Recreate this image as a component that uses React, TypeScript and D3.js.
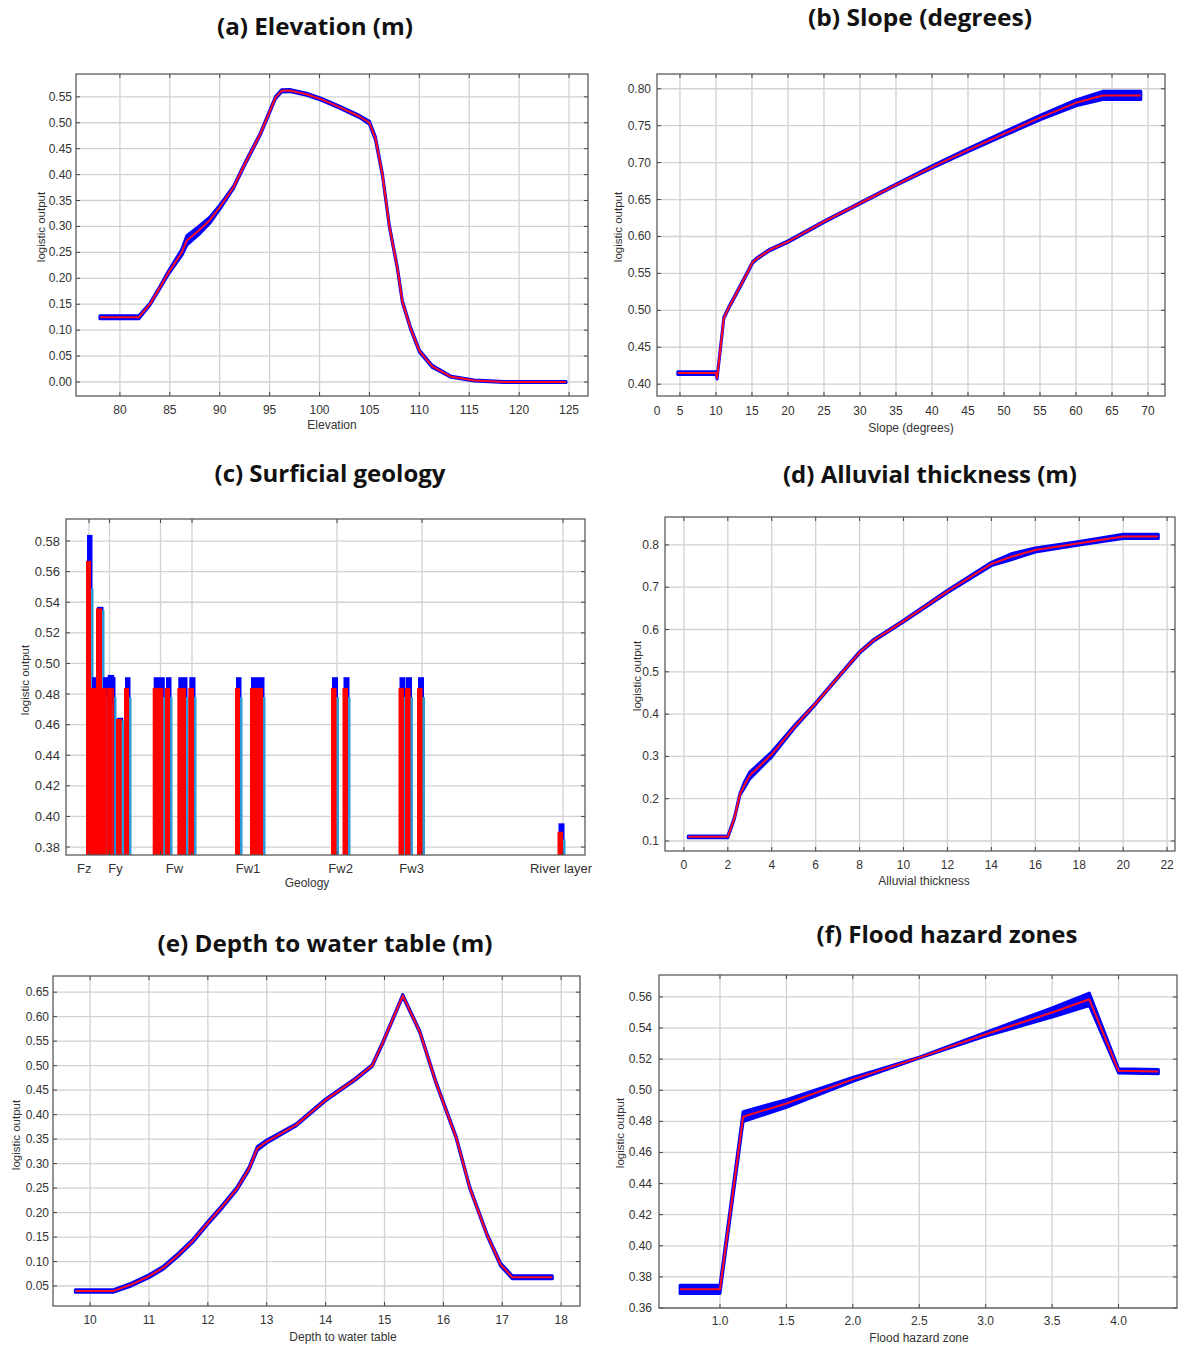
import React from 'react';
import * as d3 from 'd3';

// (a) Elevation (m)
const elevX = [78, 81.9, 83, 84, 84.8, 86.2, 86.7, 87.9, 89, 90, 91.4, 92.5, 94.06, 95.6, 96.2, 97, 98.7, 100.2, 102, 104, 105, 105.6, 106.3, 107, 107.8, 108.3, 109.1, 110, 111.3, 113.2, 115.5, 118.5, 124.7];
const elevY = [0.125, 0.125, 0.15, 0.182, 0.209, 0.25, 0.273, 0.292, 0.312, 0.337, 0.376, 0.42, 0.478, 0.549, 0.5615, 0.562, 0.555, 0.545, 0.53, 0.512, 0.5, 0.47, 0.4, 0.3, 0.22, 0.155, 0.105, 0.06, 0.03, 0.01, 0.003, 0.0, 0.0];
const elevSd = [0.003, 0.003, 0.002, 0.002, 0.003, 0.006, 0.009, 0.008, 0.006, 0.004, 0.002, 0.002, 0.002, 0.002, 0.002, 0.002, 0.002, 0.002, 0.002, 0.002, 0.003, 0.003, 0.002, 0.002, 0.002, 0.002, 0.002, 0.002, 0.002, 0.001, 0.001, 0.001, 0.001];
const elevXTicks = [80, 85, 90, 95, 100, 105, 110, 115, 120, 125];
const elevYTicks = [0, 0.05, 0.1, 0.15, 0.2, 0.25, 0.3, 0.35, 0.4, 0.45, 0.5, 0.55];

// (b) Slope (degrees)
const slopeX = [4.7, 10, 10.15, 11.1, 12, 13.5, 15.1, 15.8, 17.5, 20, 25, 30, 35, 40, 45, 50, 55, 60, 63.7, 69];
const slopeY = [0.415, 0.415, 0.408, 0.49, 0.508, 0.535, 0.565, 0.571, 0.582, 0.593, 0.62, 0.645, 0.67, 0.694, 0.717, 0.739, 0.761, 0.781, 0.791, 0.791];
const slopeSd = [0.002, 0.002, 0.001, 0.001, 0.001, 0.001, 0.001, 0.001, 0.001, 0.001, 0.001, 0.001, 0.001, 0.0015, 0.002, 0.0025, 0.003, 0.004, 0.0055, 0.0055];
const slopeXTicks = [5, 10, 15, 20, 25, 30, 35, 40, 45, 50, 55, 60, 65, 70];
const slopeYTicks = [0.4, 0.45, 0.5, 0.55, 0.6, 0.65, 0.7, 0.75, 0.8];

// (c) Surficial geology
const geoStart = [2.0, 2.5, 3.0, 3.6, 4.07, 4.67, 5.0, 5.8, 8.67, 9.9, 11.13, 12.23, 16.9, 18.4, 26.5, 27.65, 33.25, 33.9, 35.1, 49.15];
const geoEnd = [2.5, 3.0, 3.6, 4.07, 4.67, 4.8, 5.57, 6.3, 9.73, 10.4, 12.0, 12.8, 17.4, 19.7, 27.05, 28.2, 33.8, 34.45, 35.65, 49.7];
const geoMean = [0.567, 0.484, 0.536, 0.484, 0.484, 0.484, 0.4637, 0.484, 0.484, 0.484, 0.484, 0.484, 0.484, 0.484, 0.484, 0.484, 0.484, 0.484, 0.484, 0.39];
const geoUpper = [0.584, 0.491, 0.537, 0.491, 0.4925, 0.491, 0.4645, 0.491, 0.491, 0.491, 0.491, 0.491, 0.491, 0.491, 0.491, 0.491, 0.491, 0.491, 0.491, 0.3955];
const geoLower = [0.549, 0.478, 0.535, 0.478, 0.4728, 0.478, 0.4627, 0.478, 0.478, 0.478, 0.478, 0.478, 0.478, 0.478, 0.478, 0.478, 0.478, 0.478, 0.478, 0.385];
const geoGrid = [2.3, 4.35, 9.45, 12.6, 27.1, 35.6, 49.7];
const geoCats = ['Fz', 'Fy', 'Fw', 'Fw1', 'Fw2', 'Fw3', 'River layer'];
const geoCatPos = [1.83, 4.96, 10.85, 18.2, 27.46, 34.56, 49.5];
const geoYTicks = [0.38, 0.4, 0.42, 0.44, 0.46, 0.48, 0.5, 0.52, 0.54, 0.56, 0.58];

// (d) Alluvial thickness (m)
const alluX = [0.2, 2, 2.3, 2.55, 2.75, 3.0, 4, 5.1, 6, 7, 8, 8.6, 10, 12, 14, 14.9, 16, 18, 20, 21.6];
const alluY = [0.11, 0.11, 0.154, 0.21, 0.232, 0.255, 0.305, 0.374, 0.425, 0.486, 0.546, 0.573, 0.62, 0.69, 0.755, 0.772, 0.788, 0.804, 0.82, 0.82];
const alluSd = [0.002, 0.002, 0.002, 0.002, 0.007, 0.008, 0.006, 0.003, 0.002, 0.002, 0.002, 0.002, 0.002, 0.003, 0.004, 0.007, 0.005, 0.004, 0.005, 0.005];
const alluXTicks = [0, 2, 4, 6, 8, 10, 12, 14, 16, 18, 20, 22];
const alluYTicks = [0.1, 0.2, 0.3, 0.4, 0.5, 0.6, 0.7, 0.8];

// (e) Depth to water table (m)
const depthX = [9.75, 10.4, 10.7, 11.0, 11.25, 11.5, 11.75, 12.0, 12.25, 12.5, 12.7, 12.84, 13.0, 13.5, 14.0, 14.5, 14.79, 14.96, 15.31, 15.6, 15.87, 16.22, 16.45, 16.74, 16.97, 17.17, 17.85];
const depthY = [0.04, 0.04, 0.053, 0.07, 0.088, 0.114, 0.143, 0.179, 0.213, 0.25, 0.29, 0.331, 0.345, 0.379, 0.43, 0.472, 0.5, 0.544, 0.643, 0.569, 0.467, 0.352, 0.25, 0.155, 0.094, 0.068, 0.068];
const depthSd = [0.0025, 0.0025, 0.003, 0.003, 0.003, 0.003, 0.003, 0.003, 0.003, 0.003, 0.003, 0.004, 0.003, 0.002, 0.002, 0.002, 0.002, 0.002, 0.002, 0.002, 0.002, 0.002, 0.002, 0.002, 0.003, 0.003, 0.003];
const depthXTicks = [10, 11, 12, 13, 14, 15, 16, 17, 18];
const depthYTicks = [0.05, 0.1, 0.15, 0.2, 0.25, 0.3, 0.35, 0.4, 0.45, 0.5, 0.55, 0.6, 0.65];

// (f) Flood hazard zones
const floodX = [0.7, 1.0, 1.174, 1.5, 2.0, 2.5, 3.0, 3.5, 3.78, 4.0, 4.3];
const floodY = [0.372, 0.372, 0.483, 0.4915, 0.507, 0.521, 0.536, 0.55, 0.5585, 0.5125, 0.512];
const floodSd = [0.0026, 0.0026, 0.0032, 0.0025, 0.0012, 0.0003, 0.0012, 0.003, 0.004, 0.0014, 0.0014];
const floodXTicks = [1, 1.5, 2, 2.5, 3, 3.5, 4];
const floodYTicks = [0.36, 0.38, 0.4, 0.42, 0.44, 0.46, 0.48, 0.5, 0.52, 0.54, 0.56];

const FONT = '"Liberation Sans", Arial, sans-serif';
const TITLE_FONT = '"Open Sans", "Noto Sans", sans-serif';
const GRID = '#d2d2d2';
const BLUE = '#0000ff';
const RED = '#ff0a1e';

type Box = { l: number; t: number; r: number; b: number };

const Frame = ({ x, y, box, xGrid, xLabels, yTicks, yFmt, xTickY, yTickX, fs, title, titlePos, titleW, xTitle, xTitlePos, yTitlePos, children }: any) => (
  <g>
    <rect x={box.l} y={box.t} width={box.r - box.l} height={box.b - box.t} fill="#fff" />
    {xGrid.map((v: number, i: number) => (
      <line key={'gx' + i} x1={x(v)} x2={x(v)} y1={box.t} y2={box.b} stroke={GRID} strokeWidth={1.3} />
    ))}
    {yTicks.map((v: number, i: number) => (
      <line key={'gy' + i} x1={box.l} x2={box.r} y1={y(v)} y2={y(v)} stroke={GRID} strokeWidth={1.3} />
    ))}
    {children}
    {xGrid.map((v: number, i: number) => (
      <g key={'tx' + i} stroke="#444" strokeWidth={1}>
        <line x1={x(v)} x2={x(v)} y1={box.b} y2={box.b - 4} />
        <line x1={x(v)} x2={x(v)} y1={box.t} y2={box.t + 4} />
      </g>
    ))}
    {yTicks.map((v: number, i: number) => (
      <g key={'ty' + i} stroke="#444" strokeWidth={1}>
        <line x1={box.l} x2={box.l + 4} y1={y(v)} y2={y(v)} />
        <line x1={box.r} x2={box.r - 4} y1={y(v)} y2={y(v)} />
      </g>
    ))}
    <rect x={box.l} y={box.t} width={box.r - box.l} height={box.b - box.t} fill="none" stroke="#5a5a5a" strokeWidth={1.3} />
    <g fontFamily={FONT} fontSize={fs} fill="#333">
      {yTicks.map((v: number, i: number) => (
        <text key={'ly' + i} x={yTickX} y={y(v)} textAnchor="end" dominantBaseline="central">{yFmt(v)}</text>
      ))}
      {xLabels.map((d: any, i: number) => (
        <text key={'lx' + i} x={x(d.v)} y={xTickY} textAnchor="middle" dominantBaseline="central">{d.t}</text>
      ))}
      <text x={xTitlePos[0]} y={xTitlePos[1]} textAnchor="middle" dominantBaseline="central" fontSize={12}>{xTitle}</text>
      <text transform={`translate(${yTitlePos[0]},${yTitlePos[1]}) rotate(-90)`} textAnchor="middle" dominantBaseline="central" fontSize={11.5}>logistic output</text>
    </g>
    <text x={titlePos[0]} y={titlePos[1]} textAnchor="middle" dominantBaseline="central" fontFamily={TITLE_FONT}
      fontWeight="bold" fontSize={24} fill="#111" textLength={titleW} lengthAdjust="spacingAndGlyphs">{title}</text>
  </g>
);

const LinePanel = (p: any) => {
  const box: Box = p.box;
  const x = d3.scaleLinear().domain(p.xDomain).range([box.l, box.r]);
  const y = d3.scaleLinear().domain(p.yDomain).range([box.b, box.t]);
  const pts = p.xs.map((v: number, i: number) => ({ x: v, y: p.ys[i], s: p.sd[i] }));
  const line = d3.line<any>().x((d) => x(d.x)).y((d) => y(d.y));
  const band = d3.area<any>().x((d) => x(d.x)).y0((d) => y(d.y - d.s)).y1((d) => y(d.y + d.s));
  const xLabels = p.xTicks.map((v: number) => ({ v, t: p.xFmt(v) }));
  if (p.zeroLabel) xLabels.unshift({ v: p.xDomain[0], t: '0' });
  return (
    <Frame x={x} y={y} box={box} xGrid={p.xTicks} xLabels={xLabels} yTicks={p.yTicks} yFmt={p.yFmt}
      xTickY={p.xTickY} yTickX={p.yTickX} fs={p.fs || 12} title={p.title} titlePos={p.titlePos} titleW={p.titleW}
      xTitle={p.xTitle} xTitlePos={p.xTitlePos} yTitlePos={p.yTitlePos}>
      <path d={band(pts) || ''} fill={BLUE} stroke={BLUE} strokeWidth={3} strokeLinejoin="round" strokeLinecap="square" />
      <path d={line(pts) || ''} fill="none" stroke={RED} strokeWidth={2} strokeLinejoin="round" />
    </Frame>
  );
};

const GeologyPanel = () => {
  const box: Box = { l: 66, t: 519, r: 585, b: 855 };
  const x = d3.scaleLinear().domain([0, 51.9]).range([box.l, box.r]);
  const y = d3.scaleLinear().domain([0.3748, 0.5944]).range([box.b, box.t]);
  const base = y.domain()[0];
  const f2 = d3.format('.2f');
  return (
    <Frame x={x} y={y} box={box} xGrid={geoGrid} xLabels={geoCats.map((t, i) => ({ v: geoCatPos[i], t }))}
      yTicks={geoYTicks} yFmt={f2} xTickY={868} yTickX={60} fs={13}
      title="(c) Surficial geology" titlePos={[330, 472]} titleW={231} xTitle="Geology" xTitlePos={[307, 883]} yTitlePos={[25, 680]}>
      {geoStart.map((s, i) => (
        <g key={i}>
          <rect x={x(s + 0.1)} y={y(geoUpper[i])} width={x(geoEnd[i] + 0.15) - x(s + 0.1)} height={y(base) - y(geoUpper[i])} fill={BLUE} />
          <rect x={x(s + 0.15)} y={y(geoLower[i])} width={x(geoEnd[i] + 0.25) - x(s + 0.15)} height={y(base) - y(geoLower[i])} fill="#2a9ad8" />
          <rect x={x(s)} y={y(geoMean[i])} width={x(geoEnd[i]) - x(s)} height={y(base) - y(geoMean[i])} fill="#ff0000" />
        </g>
      ))}
    </Frame>
  );
};

const f2 = d3.format('.2f');
const f1 = d3.format('.1f');
const f0 = d3.format('d');

export default function App() {
  return (
    <svg width={1178} height={1345} style={{ position: 'absolute', left: 0, top: 0, background: '#fff' }}>
      <rect width={1178} height={1345} fill="#fff" />
      <LinePanel box={{ l: 76, t: 74, r: 588, b: 396 }} xDomain={[75.6, 126.9]} yDomain={[-0.027, 0.594]}
        xTicks={elevXTicks} yTicks={elevYTicks} xFmt={f0} yFmt={f2} xs={elevX} ys={elevY} sd={elevSd}
        xTickY={410} yTickX={72} title="(a) Elevation (m)" titlePos={[315, 25]} titleW={196}
        xTitle="Elevation" xTitlePos={[332, 425]} yTitlePos={[41, 227]} />
      <LinePanel box={{ l: 657, t: 74, r: 1165, b: 396 }} xDomain={[1.81, 72.36]} yDomain={[0.384, 0.82]}
        xTicks={slopeXTicks} yTicks={slopeYTicks} xFmt={f0} yFmt={f2} xs={slopeX} ys={slopeY} sd={slopeSd}
        xTickY={411} yTickX={651} zeroLabel title="(b) Slope (degrees)" titlePos={[920, 16]} titleW={224}
        xTitle="Slope (degrees)" xTitlePos={[911, 428]} yTitlePos={[618, 227]} />
      <GeologyPanel />
      <LinePanel box={{ l: 665, t: 517, r: 1175, b: 851 }} xDomain={[-0.86, 22.36]} yDomain={[0.0764, 0.866]}
        xTicks={alluXTicks} yTicks={alluYTicks} xFmt={f0} yFmt={f1} xs={alluX} ys={alluY} sd={alluSd}
        xTickY={865} yTickX={659} title="(d) Alluvial thickness (m)" titlePos={[930, 473]} titleW={294}
        xTitle="Alluvial thickness" xTitlePos={[924, 881]} yTitlePos={[637, 676]} />
      <LinePanel box={{ l: 53, t: 976, r: 580, b: 1306 }} xDomain={[9.37, 18.32]} yDomain={[0.0092, 0.683]}
        xTicks={depthXTicks} yTicks={depthYTicks} xFmt={f0} yFmt={f2} xs={depthX} ys={depthY} sd={depthSd}
        xTickY={1320} yTickX={49} title="(e) Depth to water table (m)" titlePos={[325, 942]} titleW={335}
        xTitle="Depth to water table" xTitlePos={[343, 1337]} yTitlePos={[16, 1135]} />
      <LinePanel box={{ l: 659, t: 975, r: 1177, b: 1308 }} xDomain={[0.541, 4.44]} yDomain={[0.36, 0.5741]}
        xTicks={floodXTicks} yTicks={floodYTicks} xFmt={f1} yFmt={f2} xs={floodX} ys={floodY} sd={floodSd}
        xTickY={1321} yTickX={652} title="(f) Flood hazard zones" titlePos={[947, 933]} titleW={261}
        xTitle="Flood hazard zone" xTitlePos={[919, 1338]} yTitlePos={[620, 1133]} />
    </svg>
  );
}
